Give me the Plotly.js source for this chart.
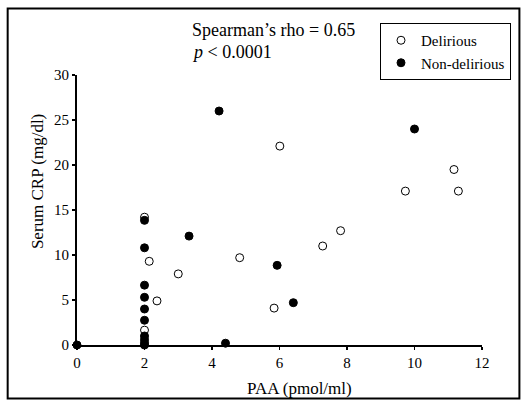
<!DOCTYPE html>
<html>
<head>
<meta charset="utf-8">
<script src="https://cdn.plot.ly/plotly-3.0.1.min.js"></script>
<style>html,body{margin:0;padding:0;background:#fff;}#chart{width:522px;height:400px;}</style>
</head>
<body>
<div id="chart"></div>
<script>
// Delirious (open circles)
const deliriousPAA = [6.01, 11.17, 9.73, 11.3, 2.0, 7.81, 7.28, 4.82, 2.14, 3.0, 2.37, 5.84, 2.0];
const deliriousCRP = [22.1, 19.5, 17.1, 17.1, 14.2, 12.7, 11.0, 9.7, 9.3, 7.9, 4.9, 4.1, 1.65];
// Non-delirious (filled circles)
const nonDeliriousPAA = [0, 4.21, 10.0, 2.0, 3.32, 2.0, 5.93, 2.0, 2.0, 6.41, 2.0, 2.0, 2.0, 2.0, 2.0, 2.0, 4.4];
const nonDeliriousCRP = [0, 26.0, 24.0, 13.85, 12.1, 10.8, 8.85, 6.65, 5.3, 4.7, 4.0, 2.75, 1.0, 0.6, 0.25, 0.0, 0.2];
const xTicks = [0, 2, 4, 6, 8, 10, 12];
const yTicks = [0, 5, 10, 15, 20, 25, 30];
const seriesNames = ['Delirious', 'Non-delirious'];
const statText = ["Spearman\u2019s rho = 0.65", "<i>p</i> < 0.0001"];
const xTitle = 'PAA (pmol/ml)';
const yTitle = 'Serum CRP (mg/dl)';

const FONT = '"Liberation Serif", "Times New Roman", serif';
const L = 77, R = 483, T = 75, B = 345;
const W = R - L, H = B - T;
const px = v => (v - L) / W;
const py = v => (B - v) / H;

const traces = [
  {x: deliriousPAA, y: deliriousCRP, name: seriesNames[0], type: 'scatter', mode: 'markers',
   cliponaxis: false,
   marker: {symbol: 'circle', size: 8, color: '#ffffff', line: {color: '#000000', width: 1}}},
  {x: nonDeliriousPAA, y: nonDeliriousCRP, name: seriesNames[1], type: 'scatter', mode: 'markers',
   cliponaxis: false,
   marker: {symbol: 'circle', size: 8, color: '#000000', line: {color: '#000000', width: 1}}}
];

const layout = {
  width: 522, height: 400,
  margin: {l: L, r: 522 - R, t: T, b: 400 - B, pad: 0},
  paper_bgcolor: '#ffffff', plot_bgcolor: '#ffffff',
  font: {family: FONT, size: 15, color: '#000000'},
  showlegend: true,
  legend: {x: px(511), y: py(23), xanchor: 'right', yanchor: 'top',
           bordercolor: '#000000', borderwidth: 1, bgcolor: '#ffffff',
           font: {family: FONT, size: 15, color: '#000000'}, tracegroupgap: 0, itemwidth: 30},
  xaxis: {range: [0, 12], tickvals: xTicks, ticktext: xTicks.map(String), showgrid: false, zeroline: false,
          showline: true, linecolor: '#000000', linewidth: 2, ticks: 'outside', ticklen: 3, tickwidth: 1.5,
          tickcolor: '#000000', tickfont: {family: FONT, size: 15, color: '#000000'}, fixedrange: true},
  yaxis: {range: [0, 30], tickvals: yTicks, ticktext: yTicks.map(String), showgrid: false, zeroline: false,
          showline: true, linecolor: '#000000', linewidth: 2, ticks: 'outside', ticklen: 3, tickwidth: 1.5,
          tickcolor: '#000000', tickfont: {family: FONT, size: 15, color: '#000000'}, fixedrange: true},
  annotations: [
    {text: statText[0], xref: 'paper', yref: 'paper', x: px(190), y: py(29.5), xanchor: 'left', yanchor: 'middle',
     showarrow: false, font: {family: FONT, size: 18, color: '#000000'}},
    {text: statText[1], xref: 'paper', yref: 'paper', x: px(190), y: py(51.5), xanchor: 'left', yanchor: 'middle',
     showarrow: false, font: {family: FONT, size: 18, color: '#000000'}},
    {text: xTitle, xref: 'paper', yref: 'paper', x: px(300), y: py(388), xanchor: 'center', yanchor: 'middle',
     showarrow: false, font: {family: FONT, size: 17, color: '#000000'}},
    {text: yTitle, xref: 'paper', yref: 'paper', x: px(37), y: py(182), xanchor: 'center', yanchor: 'middle',
     textangle: -90, showarrow: false, font: {family: FONT, size: 17, color: '#000000'}}
  ],
  shapes: [
    {type: 'rect', xref: 'paper', yref: 'paper', x0: px(7.5), x1: px(520.5), y0: py(398.5), y1: py(8.5),
     line: {color: '#000000', width: 2}, fillcolor: 'rgba(0,0,0,0)', layer: 'below'}
  ]
};

Plotly.newPlot('chart', traces, layout, {displayModeBar: false, staticPlot: true});
</script>
</body>
</html>
